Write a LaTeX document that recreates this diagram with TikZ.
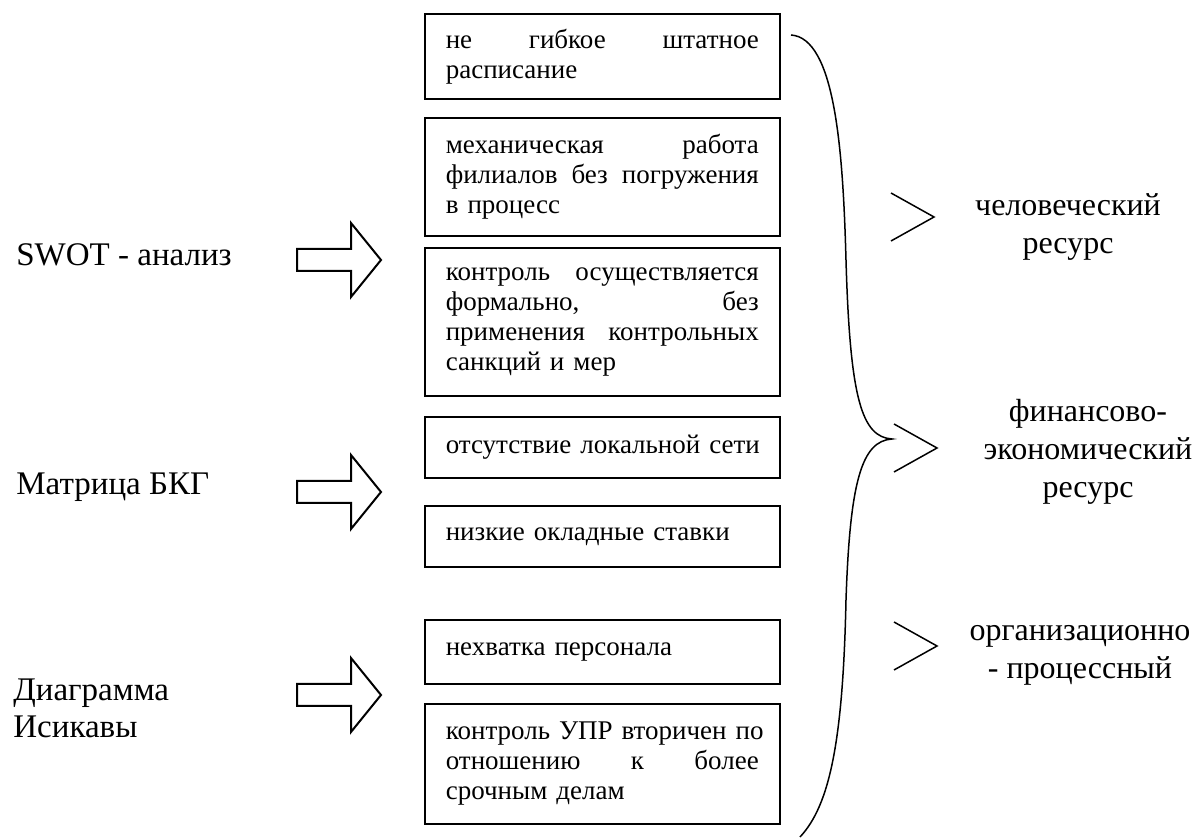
\documentclass[tikz,border=0pt]{standalone}
\usepackage{fontspec}
\setmainfont{Liberation Serif}
\usetikzlibrary{calc,positioning}
\setlength{\parindent}{0pt}
\newlength{\boxtw}
\setlength{\boxtw}{156.5pt}
\newcommand{\jline}[1]{\leavevmode\hbox to\boxtw{#1}}
\tikzset{
    probbox/.style={draw, line width=0.8pt, anchor=north west, text width=\boxtw,
    inner xsep=10.5pt, inner ysep=0pt, align=left, font=\fontsize{13.5}{15}\selectfont},
    method/.style={anchor=west, inner sep=0pt, align=left, font=\fontsize{16.5}{18.5}\selectfont},
    resource/.style={inner sep=0pt, align=center, font=\fontsize{16}{19}\selectfont},
    bigarrow/.pic={\draw[line width=1pt, line join=miter]
        (-42,-11) -- (12,-11) -- (12,-37) -- (42,0) -- (12,37) -- (12,11) -- (-42,11) -- cycle;},
    chevron/.pic={\draw[line width=0.75pt] (0,-24) -- (43,0) -- (0,24);}
}
\begin{document}
\begin{tikzpicture}[x=0.5pt, y=-0.5pt]
    \useasboundingbox (0,0) rectangle (1196,838);
    % methods
    \node[method] (m1) at (16,255) {SWOT - анализ};
    \node[method] (m2) at (16,487) {Матрица БКГ};
    \node[method] (m3) at (13,708) {Диаграмма\\Исикавы};
    \pic at (339,260) {bigarrow};
    \pic at (339,492) {bigarrow};
    \pic at (339,695) {bigarrow};
    % problems
    \node[probbox, minimum height=42.5pt] (p1) at (424,13) {\jline{не\hfill гибкое\hfill штатное}\\расписание};
    \node[probbox, minimum height=59pt] (p2) at (424,117) {\jline{механическая\hfill работа}\\\jline{филиалов\hfill без\hfill погружения}\\в процесс};
    \node[probbox, minimum height=74pt] (p3) at (424,247) {\jline{контроль\hfill осуществляется}\\\jline{формально,\hfill без}\\\jline{применения\hfill контрольных}\\санкций и мер};
    \node[probbox, minimum height=30.5pt] (p4) at (424,416) {\mbox{отсутствие локальной сети}};
    \node[probbox, minimum height=30.5pt] (p5) at (424,505) {низкие окладные ставки};
    \node[probbox, minimum height=32pt] (p6) at (424,619) {нехватка персонала};
    \node[probbox, minimum height=60pt] (p7) at (424,703) {\jline{контроль УПР вторичен по\hss}\\\jline{отношению\hfill к\hfill более}\\срочным делам};
    % brace
    \coordinate (brtop) at (791,35);
    \coordinate (brmid) at (892,439);
    \coordinate (brbot) at (800,837);
    \draw[line width=0.75pt] (brtop) .. controls (835,38) and (843,150) .. (846,260)
        .. controls (850,400) and (862,437) .. (brmid)
        .. controls (862,441) and (850,480) .. (846,600)
        .. controls (843,740) and (830,805) .. (brbot);
    % resources
    \pic at (891,217) {chevron};
    \pic at (894,448) {chevron};
    \pic at (894,646) {chevron};
    \node[resource] (r1) at (1068,227) {человеческий\\ресурс};
    \node[resource] (r2) at (1088,452) {финансово-\\экономический\\ресурс};
    \node[resource] (r3) at (1080,655) {организационно\\- процессный};
\end{tikzpicture}
\end{document}
